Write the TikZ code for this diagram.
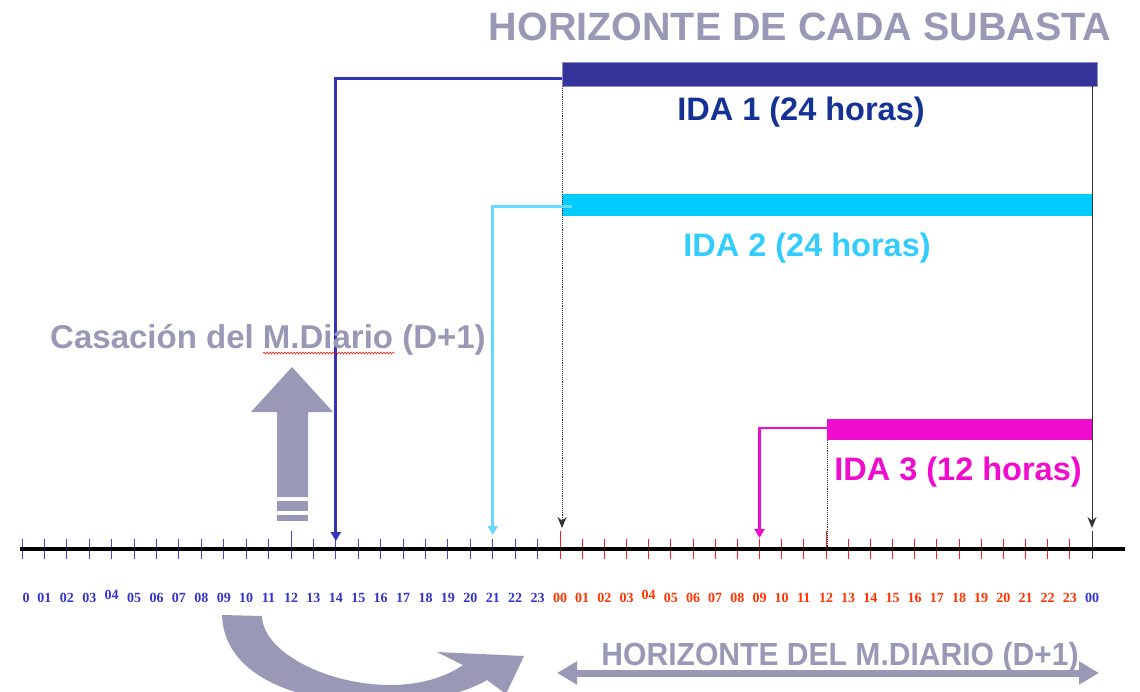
\documentclass[tikz,border=0pt]{standalone}
\usepackage{fontspec}
\setmainfont{Liberation Sans}
\newfontfamily\timesf{Liberation Serif}
\usetikzlibrary{arrows.meta,decorations.pathmorphing,calc}
\definecolor{gry}{RGB}{153,153,183}
\definecolor{navy}{RGB}{51,51,153}
\definecolor{idaone}{RGB}{20,50,150}
\definecolor{conone}{RGB}{51,51,187}
\definecolor{cyanbar}{RGB}{0,204,255}
\definecolor{cyantxt}{RGB}{51,204,255}
\definecolor{cyancon}{RGB}{102,217,255}
\definecolor{mag}{RGB}{240,12,204}
\definecolor{tickblue}{RGB}{68,68,204}
\definecolor{tickred}{RGB}{255,30,30}
\definecolor{lblblue}{RGB}{51,51,204}
\definecolor{lblred}{RGB}{255,51,0}
\tikzset{
  bar/.style={inner sep=0pt, outer sep=0pt, draw=none},
  bigtxt/.style={anchor=base, inner sep=0pt, font=\bfseries\fontsize{#1}{#1}\selectfont},
  lbl/.style={anchor=base, inner sep=0pt, font=\timesf\bfseries\fontsize{14}{14}\selectfont},
  conn/.style={line width=3pt, -{Triangle[length=9pt,width=10pt]}},
  blk/.style={line width=1pt, black!80, -{Stealth[length=11pt,width=9pt,inset=3.5pt]}},
  dots/.style={line width=0.9pt, black!80, densely dotted}
}
\begin{document}
\begin{tikzpicture}[x=1pt,y=-1pt]
\useasboundingbox (0,0) rectangle (1140,691);
\clip (0,0) rectangle (1140,691);

% tick coordinates
\foreach \i in {0,...,48}{
  \pgfmathsetmacro\xx{\i<=24 ? 22+22.417*\i : 560+22.167*(\i-24)}
  \coordinate (t\i) at (\xx,549);
}
% ticks
\foreach \i in {0,...,48}{
  \ifnum\i<24 \def\tc{tickblue}\else\ifnum\i<48 \def\tc{tickred}\else\def\tc{black!80}\fi\fi
  \ifnum\i=12 \def\tt{18}\else\ifnum\i=24 \def\tt{18}\else\ifnum\i=36 \def\tt{18}\else\ifnum\i=48 \def\tt{18}\else\def\tt{10}\fi\fi\fi\fi
  \draw[\tc, line width=1pt] ($(t\i)+(0,-\tt)$) -- ($(t\i)+(0,10)$);
}
% axis
\coordinate (axs) at (20,549);
\coordinate (axe) at (1125,549);
\draw[line width=3.5pt, black] (axs) -- (axe);

% labels
\foreach \i in {0,...,48}{
  \ifnum\i<24
    \pgfmathtruncatemacro\n{\i}\def\lc{lblblue}
  \else\ifnum\i<48
    \pgfmathtruncatemacro\n{\i-24}\def\lc{lblred}
  \else
    \pgfmathtruncatemacro\n{0}\def\lc{lblblue}
  \fi\fi
  \ifnum\n=4 \def\dy{-2.5}\else\def\dy{0}\fi
  \ifnum\i=0
    \node[lbl, text=\lc] (l\i) at ($(t\i)+(4,53)$) {0};
  \else
    \node[lbl, text=\lc] (l\i) at ($(t\i)+(0,53+\dy)$) {\ifnum\n<10 0\fi\n};
  \fi
}

% bars
\node[bar, fill=navy, draw=navy!55!white, line width=0.6pt, minimum width=535pt, minimum height=24pt] (bar1) at (829.5,74) {};
\node[bar, fill=cyanbar, minimum width=530pt, minimum height=22pt] (bar2) at (827,205) {};
\node[bar, fill=mag, minimum width=265pt, minimum height=21pt] (bar3) at (959.5,429.5) {};

% arrow tip coordinates
\coordinate (a14) at ($(t14)+(0,-8)$);
\coordinate (a21) at ($(t21)+(0,-14)$);
\coordinate (a33) at ($(t33)+(0,-11)$);
\coordinate (a24) at ($(t24)+(0,-21)$);
\coordinate (a48) at ($(t48)+(0,-21)$);

% black verticals
\draw[dots, -{Stealth[length=11pt,width=9pt,inset=3.5pt]}] (bar1.south west) -- (bar1.south west |- a24);
\draw[blk] (t48 |- bar1.south) -- (a48);
\draw[dots, line width=0.6pt] (bar3.south west) -- (bar3.south west |- t36);

% connectors
\draw[conn, conone] ([yshift=-4pt]bar1.west) -| (a14);
\draw[conn, cyancon] ([xshift=10pt,yshift=-1pt]bar2.west) -| (a21);
\draw[conn, mag, line width=2.7pt] ([yshift=1.5pt]bar3.west) -| (a33);

% texts
\node[bigtxt=39.5, text=gry] (title) at (800,40) {HORIZONTE DE CADA SUBASTA};
\node[bigtxt=32.5, text=idaone] (ida1) at (801,120) {IDA 1 (24 horas)};
\node[bigtxt=32.5, text=cyantxt] (ida2) at (807,256) {IDA 2 (24 horas)};
\node[bigtxt=32.5, text=mag] (ida3) at (958,480) {IDA 3 (12 horas)};
\node[bigtxt=33, text=gry] (casa) at (268,348) {Casación del M.Diario (D+1)};
\coordinate (sq1) at (263,353);
\coordinate (sq2) at (395,353);
\draw[red, line width=0.5pt, decorate, decoration={snake, amplitude=1pt, segment length=3pt}] (sq1) -- (sq2);

% big up arrow
\fill[gry] (277,497) -- (277,412) -- (251,412) -- (292,367) -- (333,412) -- (308,412) -- (308,497) -- cycle;
\fill[gry] (277,501) rectangle (308,511);
\fill[gry] (277,515) rectangle (308,521);

% curved arrow
\fill[gry] (222,615) -- (262,616) .. controls (263,668) and (395,712) .. (463,665)
  -- (437,652) -- (524,656) -- (506,694) -- (487,680)
  .. controls (420,720) and (225,715) .. (222,615) -- cycle;

% bottom double arrow and text
\coordinate (dl) at (557,673);
\coordinate (dr) at (1099,673);
\draw[gry, line width=7pt, {Triangle[length=20pt,width=22pt]}-{Triangle[length=20pt,width=22pt]}] (dl) -- (dr);
\node[bigtxt=32, text=gry, xscale=0.94] (hor) at (840,665) {HORIZONTE DEL M.DIARIO (D+1)};
\end{tikzpicture}
\end{document}
